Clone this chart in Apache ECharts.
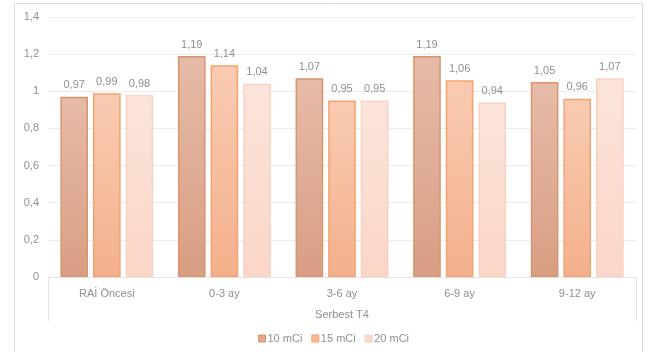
<!DOCTYPE html>
<html>
<head>
<meta charset="utf-8">
<style>
  html, body { margin: 0; padding: 0; background: #fff; }
  #chart { width: 653px; height: 352px; }
</style>
<script src="https://cdn.jsdelivr.net/npm/echarts@6/dist/echarts.min.js"></script>
</head>
<body>
<div id="chart"></div>
<script>
// Free T4 ratio by follow-up period, per administered RAI dose
const categories = ['RAİ Öncesi', '0-3 ay', '3-6 ay', '6-9 ay', '9-12 ay'];
const groupTitle = 'Serbest T4';
const dose10 = [0.97, 1.19, 1.07, 1.19, 1.05];
const dose15 = [0.99, 1.14, 0.95, 1.06, 0.96];
const dose20 = [0.98, 1.04, 0.95, 0.94, 1.07];
const seriesNames = ['10 mCi', '15 mCi', '20 mCi'];

const fontFamily = '"Liberation Sans", Arial, Helvetica, sans-serif';
const textGray = '#8f8f8f';

const comma = v => String(v).replace('.', ',');

function grad(top, bottom) {
  return new echarts.graphic.LinearGradient(0, 0, 0, 1, [
    { offset: 0, color: top },
    { offset: 1, color: bottom }
  ]);
}

const styles = [
  { fill: grad('#e6bba9', '#d99e83'), border: '#d8966f', swatch: '#dea58c' },
  { fill: grad('#f9cbb2', '#f4b08c'), border: '#f4a36e', swatch: '#f6b893' },
  { fill: grad('#fce4da', '#fad6c7'), border: '#f8d2c2', swatch: '#fad8ca' }
];

function makeSeries(name, data, st) {
  return {
    name: name,
    type: 'bar',
    data: data,
    barGap: '18%',
    barCategoryGap: '21%',
    itemStyle: { color: st.fill, borderColor: st.border, borderWidth: 1.5 },
    label: {
      show: true,
      position: 'top',
      distance: 6,
      color: textGray,
      fontFamily: fontFamily,
      fontSize: 11,
      formatter: p => comma(p.value)
    }
  };
}

const chart = echarts.init(document.getElementById('chart'), null, { renderer: 'canvas' });
chart.setOption({
  animation: false,
  backgroundColor: '#ffffff',
  textStyle: { fontFamily: fontFamily },
  graphic: [{
    type: 'rect',
    shape: { x: 14.5, y: 3.5, width: 628, height: 360 },
    style: { fill: 'none', stroke: '#dcdcdc', lineWidth: 1 },
    silent: true,
    z: -1
  }],
  grid: { left: 48, right: 17, top: 17, bottom: 75, containLabel: false },
  legend: {
    bottom: 3,
    left: 253,
    itemWidth: 7,
    itemHeight: 7,
    itemGap: 9,
    icon: 'rect',
    textStyle: { color: textGray, fontSize: 11, fontFamily: fontFamily, padding: [0, 0, 0, -3] },
    data: seriesNames.map((n, i) => ({
      name: n,
      itemStyle: { color: styles[i].swatch, borderColor: styles[i].border, borderWidth: 1 }
    }))
  },
  xAxis: [{
    type: 'category',
    data: categories,
    position: 'bottom',
    axisLine: { show: true, lineStyle: { color: '#e3e3e3', width: 1 } },
    axisTick: { show: false },
    axisLabel: { color: textGray, fontSize: 11, margin: 11, fontFamily: fontFamily }
  }, {
    type: 'category',
    data: [groupTitle],
    position: 'bottom',
    axisLine: { show: false },
    axisTick: { show: true, length: 44, lineStyle: { color: '#e3e3e3' } },
    axisLabel: { color: textGray, fontSize: 11, margin: 32, fontFamily: fontFamily },
    splitLine: { show: false }
  }],
  yAxis: {
    type: 'value',
    min: 0,
    max: 1.4,
    interval: 0.2,
    axisLine: { show: false },
    axisTick: { show: false },
    splitLine: { lineStyle: { color: '#ececec', width: 1 } },
    axisLabel: {
      color: textGray,
      fontSize: 11,
      margin: 9,
      fontFamily: fontFamily,
      formatter: v => comma(Math.round(v * 10) / 10)
    }
  },
  series: [
    makeSeries(seriesNames[0], dose10, styles[0]),
    makeSeries(seriesNames[1], dose15, styles[1]),
    makeSeries(seriesNames[2], dose20, styles[2])
  ]
});
</script>
</body>
</html>
